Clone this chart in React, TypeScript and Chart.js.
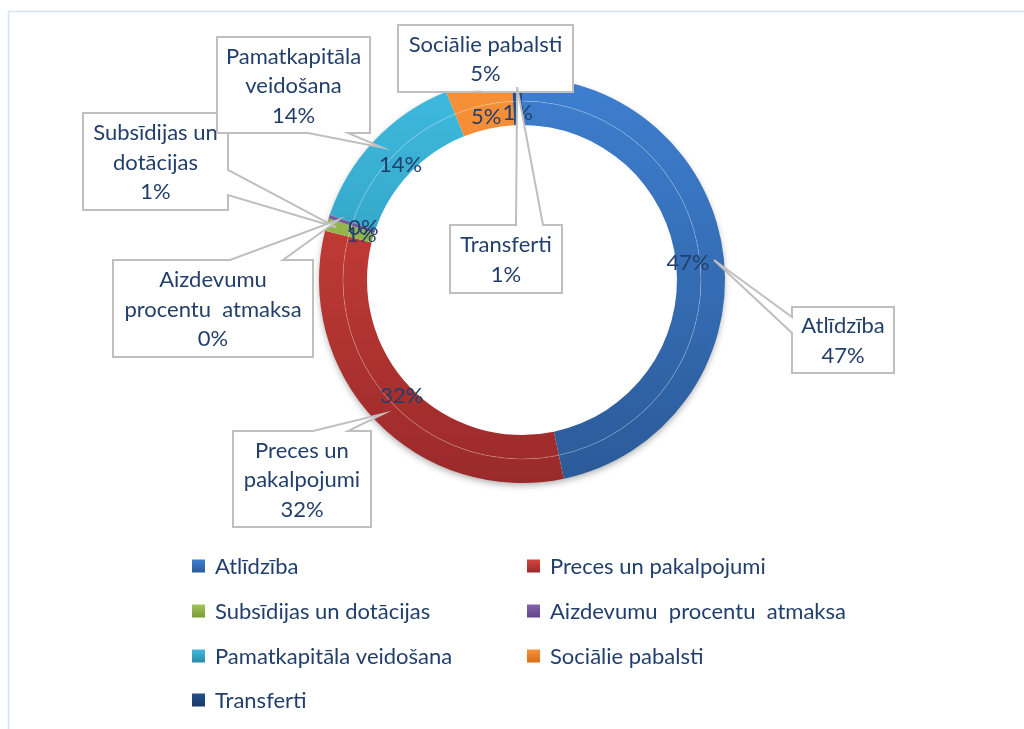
import { useEffect, useRef } from "react";
import { Chart, registerables } from "chart.js";

Chart.register(...registerables);

const categories = [
  "Atlīdzība",
  "Preces un pakalpojumi",
  "Subsīdijas un dotācijas",
  "Aizdevumu  procentu  atmaksa",
  "Pamatkapitāla veidošana",
  "Sociālie pabalsti",
  "Transferti",
];
const shares = [46.7, 32.2, 1.0, 0.3, 13.7, 5.3, 0.8];
const calloutNames = [
  ["Atlīdzība"],
  ["Preces un", "pakalpojumi"],
  ["Subsīdijas un", "dotācijas"],
  ["Aizdevumu", "procentu  atmaksa"],
  ["Pamatkapitāla", "veidošana"],
  ["Sociālie pabalsti"],
  ["Transferti"],
];
const lightColors = ["#3E7FD0", "#D6443C", "#A3C55A", "#8564B0", "#3EBAE0", "#F7923A", "#24508A"];
const darkColors = ["#2B5A98", "#9A2A2A", "#7A9A35", "#5F4585", "#2A8CA5", "#D5701A", "#1A3A66"];

const FONT = "Lato, 'Open Sans', sans-serif";
const FONT_SIZE = 22;
const TEXT_COLOR = "#223F6C";

type Box = { x: number; y: number; w: number; h: number; side: "top" | "right" | "bottom" | "left"; a: number; b: number };
const calloutBoxes: Box[] = [
  { x: 792, y: 307, w: 102, h: 66, side: "left", a: 317, b: 333 },
  { x: 233, y: 431, w: 138, h: 96, side: "top", a: 313, b: 348 },
  { x: 83, y: 113, w: 145, h: 97, side: "right", a: 170, b: 195 },
  { x: 113, y: 260, w: 200, h: 97, side: "top", a: 230, b: 283 },
  { x: 217, y: 37, w: 153, h: 96, side: "bottom", a: 308, b: 348 },
  { x: 398, y: 25, w: 175, h: 67, side: "bottom", a: 470, b: 482 },
  { x: 450, y: 225, w: 112, h: 68, side: "top", a: 516, b: 543 },
];
const legendCols = [192, 527];
const legendRows = [566, 611, 656, 700];

function pct(v: number) {
  return Math.round(v) + "%";
}

function drawCallout(ctx: CanvasRenderingContext2D, box: Box, tip: { x: number; y: number }) {
  const { x, y, w, h, side, a, b } = box;
  ctx.beginPath();
  ctx.moveTo(x, y);
  if (side === "top") {
    ctx.lineTo(a, y);
    ctx.lineTo(tip.x, tip.y);
    ctx.lineTo(b, y);
  }
  ctx.lineTo(x + w, y);
  if (side === "right") {
    ctx.lineTo(x + w, a);
    ctx.lineTo(tip.x, tip.y);
    ctx.lineTo(x + w, b);
  }
  ctx.lineTo(x + w, y + h);
  if (side === "bottom") {
    ctx.lineTo(b, y + h);
    ctx.lineTo(tip.x, tip.y);
    ctx.lineTo(a, y + h);
  }
  ctx.lineTo(x, y + h);
  if (side === "left") {
    ctx.lineTo(x, b);
    ctx.lineTo(tip.x, tip.y);
    ctx.lineTo(x, a);
  }
  ctx.closePath();
  ctx.fillStyle = "#FFFFFF";
  ctx.fill();
  ctx.lineWidth = 2;
  ctx.strokeStyle = "#BFBFBF";
  ctx.lineJoin = "miter";
  ctx.stroke();
}

const decorPlugin = {
  id: "decor",
  beforeDraw(chart: any) {
    const ctx = chart.ctx as CanvasRenderingContext2D;
    ctx.save();
    ctx.fillStyle = "#FFFFFF";
    ctx.fillRect(0, 0, chart.width, chart.height);
    ctx.strokeStyle = "#D6E1F2";
    ctx.lineWidth = 1.5;
    ctx.beginPath();
    ctx.moveTo(8.5, chart.height);
    ctx.lineTo(8.5, 11.5);
    ctx.lineTo(chart.width, 11.5);
    ctx.stroke();
    ctx.restore();
  },
  beforeDatasetsDraw(chart: any) {
    const ctx = chart.ctx as CanvasRenderingContext2D;
    const arc = chart.getDatasetMeta(0).data[0];
    if (!arc) return;
    const { x, y, outerRadius } = arc.getProps(["x", "y", "outerRadius"], true);
    ctx.save();
    ctx.shadowColor = "rgba(0,0,0,0.35)";
    ctx.shadowBlur = 7;
    ctx.shadowOffsetY = 3;
    ctx.beginPath();
    ctx.arc(x, y, outerRadius - 1, 0, Math.PI * 2);
    ctx.fillStyle = "#FFFFFF";
    ctx.fill();
    ctx.restore();
  },
  afterDatasetsDraw(chart: any) {
    const ctx = chart.ctx as CanvasRenderingContext2D;
    const outerMeta = chart.getDatasetMeta(0);
    const innerMeta = chart.getDatasetMeta(1);
    const a0 = outerMeta.data[0];
    const p0 = a0.getProps(["x", "y", "innerRadius"], true);
    ctx.save();
    ctx.strokeStyle = "rgba(255,255,255,0.2)";
    ctx.lineWidth = 1;
    ctx.beginPath();
    ctx.arc(p0.x, p0.y, p0.innerRadius, 0, Math.PI * 2);
    ctx.stroke();

    ctx.font = `${FONT_SIZE}px ${FONT}`;
    ctx.textAlign = "center";
    ctx.textBaseline = "middle";
    innerMeta.data.forEach((arc: any, i: number) => {
      const pos = arc.tooltipPosition(true);
      ctx.fillStyle = TEXT_COLOR;
      ctx.fillText(pct(shares[i]), pos.x, pos.y);
    });

    outerMeta.data.forEach((arc: any, i: number) => {
      const p = arc.getProps(["x", "y", "startAngle", "endAngle", "innerRadius", "outerRadius"], true);
      const mid = (p.startAngle + p.endAngle) / 2;
      const r = (p.innerRadius + p.outerRadius) / 2 + 2;
      const tip = { x: p.x + Math.cos(mid) * r, y: p.y + Math.sin(mid) * r };
      const box = calloutBoxes[i];
      drawCallout(ctx, box, tip);
      const lines = [...calloutNames[i], pct(shares[i])];
      const lh = 29.5;
      const cy = box.y + box.h / 2;
      const cx = box.x + box.w / 2;
      ctx.fillStyle = TEXT_COLOR;
      ctx.font = `${FONT_SIZE}px ${FONT}`;
      ctx.textAlign = "center";
      lines.forEach((ln, k) => {
        ctx.fillText(ln, cx, cy + (k - (lines.length - 1) / 2) * lh + 1);
      });
    });

    ctx.textAlign = "left";
    categories.forEach((name, i) => {
      const lx = legendCols[i % 2];
      const ly = legendRows[Math.floor(i / 2)];
      const g = ctx.createLinearGradient(0, ly - 6.5, 0, ly + 6.5);
      g.addColorStop(0, lightColors[i]);
      g.addColorStop(1, darkColors[i]);
      ctx.fillStyle = g;
      ctx.fillRect(lx, ly - 6.5, 13, 13);
      ctx.fillStyle = TEXT_COLOR;
      ctx.fillText(name, lx + 23, ly + 1);
    });
    ctx.restore();
  },
};

function makeBg(c: any) {
  const chart = c.chart;
  const area = chart.chartArea;
  const i = c.dataIndex;
  if (!area || i === undefined) return lightColors[i ?? 0];
  const g = chart.ctx.createLinearGradient(0, area.top, 0, area.bottom);
  g.addColorStop(0, lightColors[i]);
  g.addColorStop(1, darkColors[i]);
  return g;
}

export default function App() {
  const ref = useRef<HTMLCanvasElement | null>(null);
  useEffect(() => {
    if (!ref.current) return;
    const chart = new Chart(ref.current, {
      type: "doughnut",
      data: {
        labels: categories,
        datasets: [
          { data: shares, backgroundColor: makeBg, borderWidth: 0, hoverOffset: 0 },
          { data: shares, backgroundColor: makeBg, borderWidth: 0, hoverOffset: 0 },
        ],
      },
      options: {
        responsive: false,
        animation: false,
        devicePixelRatio: 1,
        cutout: "76.35%",
        layout: { padding: { left: 319, right: 299, top: 77, bottom: 246 } },
        plugins: { legend: { display: false }, tooltip: { enabled: false } },
      },
      plugins: [decorPlugin],
    });
    return () => chart.destroy();
  }, []);
  return (
    <canvas
      ref={ref}
      width={1024}
      height={729}
      style={{ position: "fixed", left: 0, top: 0, width: 1024, height: 729 }}
    />
  );
}
